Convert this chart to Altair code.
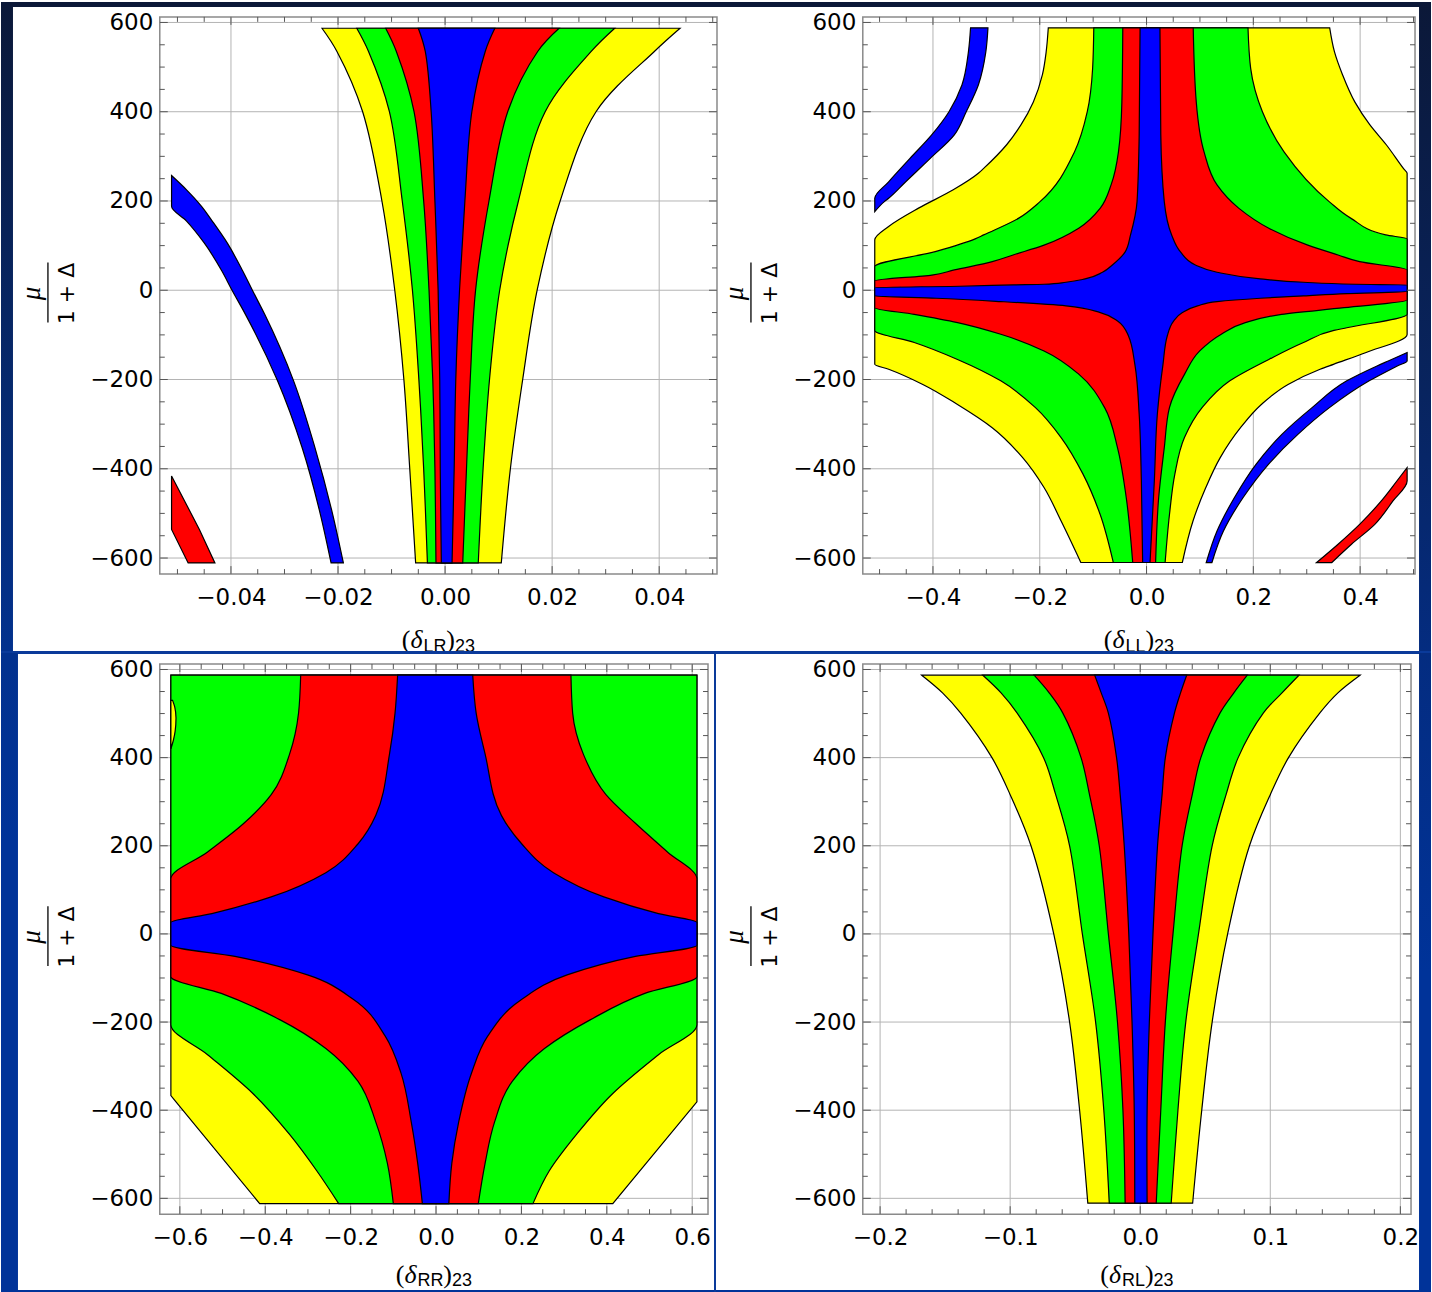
import altair as alt
import pandas as pd

SANS = "DejaVu Sans"
SANS2 = "Liberation Sans"
SERIF = "Liberation Serif"
YELLOW, GREEN, RED, BLUE = "#ffff00", "#00ff00", "#ff0000", "#0000ff"
GRID = "#b4b4b4"
TICK = "#555555"
YDOM = [-636.0, 612.5]

# ---------------- data: rows are (y, x_left, x_right) ----------------
# panel 1 : (delta_LR)_23
LR_YELLOW = [(587, -0.0230, 0.0439), (535, -0.0202, 0.0391), (400, -0.0154, 0.0282), (200, -0.0118, 0.0215),
             (0, -0.0094, 0.0172), (-200, -0.0077, 0.0145), (-400, -0.0066, 0.0122), (-611, -0.0055, 0.0105)]
LR_GREEN = [(587, -0.0165, 0.0317), (535, -0.0143, 0.0273), (400, -0.0104, 0.0187), (200, -0.0080, 0.0137),
            (0, -0.0061, 0.0102), (-200, -0.0049, 0.0083), (-400, -0.0040, 0.0071), (-611, -0.0033, 0.0062)]
LR_RED = [(587, -0.0111, 0.0213), (535, -0.0091, 0.0173), (400, -0.0058, 0.0117), (200, -0.004, 0.0082),
          (0, -0.003, 0.0057), (-200, -0.0023, 0.0047), (-400, -0.0019, 0.004), (-611, -0.0017, 0.0033)]
LR_BLUE = [(587, -0.005, 0.0093), (535, -0.0037, 0.0075), (400, -0.0026, 0.005), (200, -0.0019, 0.0037),
           (0, -0.0013, 0.0027), (-200, -0.001, 0.002), (-400, -0.0009, 0.0017), (-611, -0.0007, 0.0013)]
LR_BAND = [(257, -0.0511, -0.0511), (225, -0.0511, -0.0483), (188, -0.0511, -0.0455), (155, -0.0483, -0.0435),
           (106, -0.045, -0.0407), (43, -0.0417, -0.0378), (0, -0.0398, -0.036), (-54, -0.0373, -0.0337),
           (-203, -0.0313, -0.0283), (-353, -0.0267, -0.0243), (-502, -0.0233, -0.021), (-611, -0.0213, -0.019)]
LR_TRI = [(-416, -0.0511, -0.0511), (-536, -0.0511, -0.0459), (-611, -0.048, -0.043)]

# panel 2 : (delta_LL)_23
LL_YELLOW = [(588, -0.184, 0.343), (534, -0.188, 0.352), (483, -0.195, 0.367), (422, -0.212, 0.390),
             (371, -0.235, 0.418), (326, -0.262, 0.449), (273, -0.305, 0.481), (262, -0.315, 0.488),
             (225, -0.362, 0.488), (184, -0.427, 0.488), (143, -0.483, 0.488), (113, -0.509, 0.488),
             (-99, -0.509, 0.488), (-140, -0.509, 0.41), (-166, -0.509, 0.35), (-177, -0.483, 0.325),
             (-211, -0.419, 0.265), (-256, -0.354, 0.215), (-308, -0.289, 0.176), (-375, -0.232, 0.138),
             (-442, -0.192, 0.111), (-517, -0.160, 0.087), (-610, -0.123, 0.067)]
LL_GREEN = [(588, -0.0988, 0.190), (497, -0.101, 0.195), (400, -0.111, 0.217), (310, -0.135, 0.2575),
            (198, -0.200, 0.3425), (161, -0.240, 0.383), (124, -0.305, 0.448), (115, -0.321, 0.488),
            (87, -0.394, 0.488), (53, -0.509, 0.488), (-54, -0.509, 0.488), (-84, -0.509, 0.375),
            (-90, -0.509, 0.351), (-117, -0.435, 0.294), (-155, -0.354, 0.229), (-203, -0.273, 0.156),
            (-263, -0.208, 0.104), (-330, -0.160, 0.071), (-412, -0.119, 0.053), (-502, -0.087, 0.043),
            (-610, -0.0623, 0.0348)]
LL_RED = [(588, -0.0445, 0.0874), (422, -0.0462, 0.0931), (310, -0.0526, 0.1077), (236, -0.0664, 0.132),
          (184, -0.0866, 0.1725), (139, -0.127, 0.229), (101, -0.192, 0.302), (79, -0.250, 0.3587),
          (64, -0.289, 0.399), (45.5, -0.360, 0.488), (34, -0.402, 0.488), (21, -0.509, 0.488),
          (-22, -0.509, 0.488), (-39, -0.509, 0.37), (-54, -0.435, 0.253), (-72.5, -0.354, 0.185),
          (-98.6, -0.273, 0.140), (-136, -0.192, 0.0996), (-188, -0.127, 0.0713), (-263, -0.0785, 0.0429),
          (-353, -0.0543, 0.0332), (-465, -0.038, 0.0227), (-610, -0.0259, 0.017)]
LL_BLUE = [(588, -0.0121, 0.0251), (348, -0.0138, 0.0267), (198.5, -0.0178, 0.0332), (124, -0.030, 0.047),
           (86.6, -0.0397, 0.0632), (56.7, -0.064, 0.0915), (40.3, -0.0826, 0.132), (25.4, -0.115, 0.213),
           (17.9, -0.151, 0.294), (13.4, -0.192, 0.391), (11.9, -0.25, 0.488), (9, -0.35, 0.488),
           (6, -0.509, 0.488), (-3, -0.509, 0.488), (-7.5, -0.509, 0.375), (-12.7, -0.509, 0.294),
           (-17.9, -0.394, 0.213), (-25.4, -0.273, 0.132), (-35, -0.151, 0.0955), (-50, -0.0866, 0.0672),
           (-68.7, -0.0543, 0.051), (-102, -0.034, 0.0389), (-166, -0.0219, 0.0308), (-278, -0.0138, 0.0202),
           (-427, -0.0097, 0.0146), (-610, -0.0073, 0.0065)]
LL_BAND_UP = [(588, -0.3296, -0.297), (534, -0.3336, -0.301), (460, -0.3457, -0.315), (400, -0.370, -0.3377),
              (348, -0.4024, -0.360), (295.5, -0.443, -0.405), (243, -0.483, -0.451), (206, -0.509, -0.483),
              (198.5, -0.509, -0.491), (176, -0.509, -0.509)]
LL_BAND_LOW = [(-139.7, 0.488, 0.488), (-158.4, 0.4526, 0.488), (-169.6, 0.4316, 0.4696), (-203, 0.375, 0.417),
               (-263, 0.310, 0.3425), (-323, 0.2534, 0.2834), (-390, 0.205, 0.2283), (-465, 0.1644, 0.1806),
               (-539.5, 0.132, 0.144), (-610.5, 0.1117, 0.1223)]
LL_RED_BAND = [(-397.5, 0.488, 0.488), (-427.4, 0.4688, 0.488), (-472, 0.4397, 0.4615), (-524.5, 0.399, 0.4275),
               (-569, 0.3587, 0.3838), (-610.5, 0.318, 0.3466)]

# panel 3 : (delta_RR)_23
RR_YELLOW = [(587, -0.621, 0.611), (-367, -0.621, 0.611), (-381, -0.609, 0.611), (-612, -0.413, 0.414)]
RR_GREEN = [(587, -0.621, 0.611), (-206, -0.621, 0.611), (-274, -0.535, 0.521), (-362, -0.429, 0.414),
            (-455, -0.343, 0.329), (-538, -0.279, 0.265), (-612, -0.228, 0.227)]
RR_SLIVER = [(530, -0.621, -0.617), (515, -0.621, -0.612), (490, -0.621, -0.609), (460, -0.621, -0.611),
             (440, -0.621, -0.615), (420, -0.621, -0.621)]
RR_RED = [(587, -0.317, 0.316), (501, -0.322, 0.320), (408, -0.343, 0.345), (316, -0.386, 0.398),
          (251, -0.450, 0.467), (186, -0.535, 0.542), (125, -0.621, 0.611), (-97, -0.621, 0.611),
          (-135, -0.503, 0.489), (-195, -0.365, 0.361), (-260, -0.258, 0.254), (-334, -0.183, 0.179),
          (-427, -0.141, 0.137), (-520, -0.114, 0.115), (-612, -0.100, 0.099)]
RR_BLUE = [(587, -0.090, 0.086), (501, -0.096, 0.094), (408, -0.109, 0.115), (269, -0.141, 0.153),
           (204, -0.183, 0.201), (139, -0.258, 0.275), (84, -0.386, 0.393), (46, -0.525, 0.521),
           (26, -0.621, 0.611), (-26, -0.621, 0.611), (-51, -0.471, 0.467), (-93, -0.301, 0.307),
           (-148, -0.194, 0.201), (-232, -0.119, 0.121), (-316, -0.082, 0.083), (-427, -0.058, 0.053),
           (-520, -0.043, 0.037), (-612, -0.032, 0.030)]

# panel 4 : (delta_RL)_23
RL_YELLOW = [(587, -0.168, 0.169), (547, -0.152, 0.152), (501, -0.138, 0.138), (400, -0.114, 0.114),
             (316, -0.100, 0.100), (200, -0.084, 0.084), (0, -0.0665, 0.0672), (-200, -0.0543, 0.0553),
             (-400, -0.0466, 0.0473), (-611, -0.0403, 0.0403)]
RL_GREEN = [(587, -0.121, 0.122), (547, -0.107, 0.109), (501, -0.0946, 0.0946), (400, -0.0743, 0.0753),
            (316, -0.065, 0.066), (200, -0.0543, 0.0553), (0, -0.0445, 0.0448), (-200, -0.0343, 0.035),
            (-400, -0.028, 0.029), (-611, -0.0238, 0.0238)]
RL_RED = [(587, -0.0816, 0.0823), (547, -0.070, 0.072), (501, -0.0595, 0.0613), (400, -0.0455, 0.0466),
          (316, -0.039, 0.040), (200, -0.0315, 0.0322), (0, -0.0245, 0.0252), (-200, -0.0175, 0.0193),
          (-400, -0.0133, 0.0158), (-611, -0.0116, 0.0123)]
RL_BLUE = [(587, -0.035, 0.0357), (547, -0.030, 0.031), (501, -0.0245, 0.0263), (400, -0.0182, 0.0193),
           (316, -0.0154, 0.0168), (200, -0.0123, 0.0133), (0, -0.0088, 0.0098), (-200, -0.0063, 0.007),
           (-400, -0.0046, 0.0053), (-611, -0.0042, 0.0053)]

# axis ticks
Y_MAJOR = [-600, -400, -200, 0, 200, 400, 600]
Y_MINOR = [v for v in range(-600, 601, 50) if v % 200]
P1_X_MAJOR = [-0.04, -0.02, 0.0, 0.02, 0.04]
P1_X_MINOR = [round(i * 0.005, 4) for i in range(-10, 11) if i % 4]
P2_X_MAJOR = [-0.4, -0.2, 0.0, 0.2, 0.4]
P2_X_MINOR = [round(i * 0.05, 3) for i in range(-10, 11) if i % 4]
P3_X_MAJOR = [-0.6, -0.4, -0.2, 0.0, 0.2, 0.4, 0.6]
P3_X_MINOR = [round(i * 0.05, 3) for i in range(-12, 13) if i % 4]
P4_X_MAJOR = [-0.2, -0.1, 0.0, 0.1, 0.2]
P4_X_MINOR = [round(i * 0.02, 3) for i in range(-10, 11) if i % 5]

ONE = pd.DataFrame({"k": [0]})


def grad(*stops):
    return alt.LinearGradient(
        gradient="linear",
        stops=[alt.GradientStop(color=c, offset=o) for c, o in stops],
        x1=0, x2=0, y1=0, y2=1,
    )


G_LEFT_TOP = grad(("#0b1838", 0), ("#06296e", 0.6), ("#02318e", 1))
G_RIGHT_TOP = grad(("#0b1838", 0), ("#08245f", 0.6), ("#042c80", 1))
G_LEFT_BOT = grad(("#02318e", 0), ("#003399", 0.3), ("#003399", 1))
G_RIGHT_BOT = grad(("#042c80", 0), ("#003399", 0.5), ("#003399", 1))

SUB_W = {"L": 0.556, "R": 0.722, "2": 0.556, "3": 0.556}
SMOOTH, MONO, LIN = "catmull-rom", "monotone", "linear"


def panel(W, H, xdom, xmaj, xmin, xfmt, regions, sub, strips, tb, sb):
    xs = alt.Scale(domain=xdom, nice=False, zero=False)
    ys = alt.Scale(domain=YDOM, nice=False, zero=False)
    common = dict(grid=False, ticks=False, tickSize=0, domain=False, labelFont=SANS, labelFontSize=23,
                  labelColor="black", labelFlush=False, labelOverlap=False, title=None, zindex=1)
    xa = alt.Axis(values=xmaj, format=xfmt, labelPadding=12, **common)
    ya = alt.Axis(values=Y_MAJOR, format="d", labelPadding=7, **common)

    def X(f):
        return alt.X(f"{f}:Q", scale=xs, axis=xa)

    def Y(f):
        return alt.Y(f"{f}:Q", scale=ys, axis=ya)

    layers = []
    for x0, x1, y0, y1, col in strips:
        layers.append(alt.Chart(ONE).mark_rect(color=col).encode(
            x=alt.value(x0), x2=alt.value(x1), y=alt.value(y0), y2=alt.value(y1)))
    layers.append(alt.Chart(pd.DataFrame({"v": xmaj})).mark_rule(color=GRID, strokeWidth=1).encode(x=X("v")))
    layers.append(alt.Chart(pd.DataFrame({"v": Y_MAJOR})).mark_rule(color=GRID, strokeWidth=1).encode(y=Y("v")))
    for rows, col, interp in regions:
        d = pd.DataFrame(rows, columns=["y", "xl", "xr"])
        layers.append(alt.Chart(d).mark_area(
            orient="horizontal", interpolate=interp, color=col, stroke="black",
            strokeWidth=1.2, opacity=1).encode(y=Y("y"), x=X("xl"), x2=alt.X2("xr")))
    for vals, ln in ((xmaj, 8), (xmin, 5)):
        dv = pd.DataFrame({"v": vals})
        layers.append(alt.Chart(dv).mark_rule(color=TICK, strokeWidth=1).encode(
            x=X("v"), y=alt.value(H), y2=alt.value(H - ln)))
        layers.append(alt.Chart(dv).mark_rule(color=TICK, strokeWidth=1).encode(
            x=X("v"), y=alt.value(0), y2=alt.value(ln)))
    for vals, ln in ((Y_MAJOR, 8), (Y_MINOR, 5)):
        dv = pd.DataFrame({"v": vals})
        layers.append(alt.Chart(dv).mark_rule(color=TICK, strokeWidth=1).encode(
            y=Y("v"), x=alt.value(0), x2=alt.value(ln)))
        layers.append(alt.Chart(dv).mark_rule(color=TICK, strokeWidth=1).encode(
            y=Y("v"), x=alt.value(W), x2=alt.value(W - ln)))

    # x title (delta_sub)_23
    parts = [("(", SERIF, 26, "normal", 0, 0.333), ("δ", SERIF, 26, "italic", 0, 0.5),
             (sub, SANS2, 18, "normal", 1, sum(SUB_W[c] for c in sub)),
             (")", SERIF, 26, "normal", 0, 0.333), ("23", SANS2, 18, "normal", 1, 1.112)]
    total = sum(p[2] * p[5] for p in parts)
    x = W / 2 - total / 2
    for txt, fnt, fs, style, is_sub, wem in parts:
        layers.append(alt.Chart(ONE).mark_text(
            font=fnt, fontSize=fs, fontStyle=style, align="left", baseline="alphabetic", color="black"
        ).encode(x=alt.value(x), y=alt.value(H + (sb if is_sub else tb)), text=alt.value(txt)))
        x += fs * wem

    # y title: mu / (1 + Delta), rotated
    cy = H / 2 - 2
    layers.append(alt.Chart(ONE).mark_text(
        font=SERIF, fontSize=27, fontStyle="italic", angle=270, align="center", baseline="middle",
        color="black").encode(x=alt.value(-128), y=alt.value(cy), text=alt.value("μ")))
    layers.append(alt.Chart(ONE).mark_rule(color="black", strokeWidth=1.3).encode(
        x=alt.value(-112), y=alt.value(cy - 31), y2=alt.value(cy + 29)))
    layers.append(alt.Chart(ONE).mark_text(
        font=SANS, fontSize=22, angle=270, align="center", baseline="middle",
        color="black").encode(x=alt.value(-93), y=alt.value(cy), text=alt.value("1 + Δ")))

    return alt.layer(*layers).properties(width=W, height=H)


p1 = panel(558, 558, [-0.0533, 0.0508], P1_X_MAJOR, P1_X_MINOR, ".2f",
           [(LR_YELLOW, YELLOW, SMOOTH), (LR_GREEN, GREEN, SMOOTH), (LR_RED, RED, SMOOTH),
            (LR_BLUE, BLUE, SMOOTH), (LR_BAND, BLUE, MONO), (LR_TRI, RED, LIN)], "LR",
           [(-159, -147, -15, 637, G_LEFT_TOP), (-159, 1273, -15, -10, "#0b1838")], 74, 78)
p2 = panel(553, 558, [-0.5314, 0.5028], P2_X_MAJOR, P2_X_MINOR, ".1f",
           [(LL_YELLOW, YELLOW, MONO), (LL_GREEN, GREEN, MONO), (LL_RED, RED, MONO), (LL_BLUE, BLUE, MONO),
            (LL_BAND_UP, BLUE, MONO), (LL_BAND_LOW, BLUE, MONO), (LL_RED_BAND, RED, MONO)], "LL",
           [(557, 569, -15, 637, G_RIGHT_TOP)], 74, 78)
p3 = panel(549, 551, [-0.647, 0.637], P3_X_MAJOR, P3_X_MINOR, ".1f",
           [(RR_YELLOW, YELLOW, LIN), (RR_GREEN, GREEN, MONO), (RR_SLIVER, YELLOW, MONO),
            (RR_RED, RED, MONO), (RR_BLUE, BLUE, MONO)], "RR",
           [(-159, 1273, -13, -10, "#0a3a9a"), (-159, -142, -11, 629, G_LEFT_BOT),
            (-159, 1273, 627, 629, "#003399"), (555, 557, -11, 629, "#0a3a9a")], 69, 72)
p4 = panel(549, 551, [-0.2133, 0.2082], P4_X_MAJOR, P4_X_MINOR, ".1f",
           [(RL_YELLOW, YELLOW, SMOOTH), (RL_GREEN, GREEN, SMOOTH), (RL_RED, RED, SMOOTH),
            (RL_BLUE, BLUE, SMOOTH)], "RL",
           [(557, 569, -11, 629, G_RIGHT_BOT)], 69, 72)

chart = (
    alt.concat(p1, p2, p3, p4, columns=2, spacing={"row": 90, "column": 146}, bounds="flush")
    .properties(padding=0, background="white")
    .configure_view(stroke="#8a8a8a", strokeWidth=1.5)
)

chart.save("out.html", embed_options={"renderer": "svg", "actions": False})
